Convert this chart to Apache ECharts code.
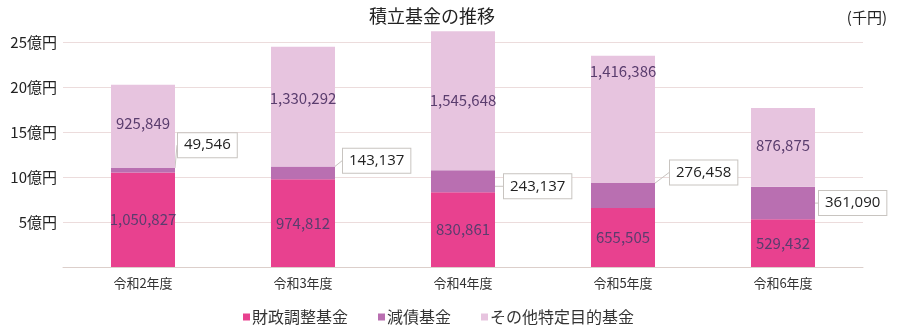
<!DOCTYPE html>
<html>
<head>
<meta charset="utf-8">
<script src="https://cdn.jsdelivr.net/npm/echarts@6/dist/echarts.min.js"></script>
<style>
  html, body { margin: 0; padding: 0; background: #fff; }
  #chart { width: 900px; height: 332px; }
</style>
</head>
<body>
<div id="chart"></div>
<script>
// 積立基金の推移 (単位: 千円)
const years = ['令和2年度', '令和3年度', '令和4年度', '令和5年度', '令和6年度'];
const seriesNames = ['財政調整基金', '減債基金', 'その他特定目的基金'];
const zaiseiChousei = [1050827, 974812, 830861, 655505, 529432];
const gensai = [49546, 143137, 243137, 276458, 361090];
const sonota = [925849, 1330292, 1545648, 1416386, 876875];
const yTicks = [0, 500000, 1000000, 1500000, 2000000, 2500000];

// callout placement for the 減債基金 boxes (px)
const calloutDx = [3, 8, 9, 15, 4];
const calloutDy = [-25, -12, 5, -23, 0];
// nudges for the その他 labels (px)
const sonotaDy = [-3, -8, 0, -48, -2];

const colors = ['#E8418F', '#B96FB1', '#E7C4DF'];
const FONT = '"Noto Sans CJK JP", "Noto Sans", sans-serif';
const fmt = v => v.toLocaleString('en-US');

const chart = echarts.init(document.getElementById('chart'), null, { renderer: 'canvas' });

const insideLabel = {
  show: true,
  position: 'inside',
  color: '#5A3D6E',
  fontFamily: FONT,
  fontSize: 15,
  formatter: p => fmt(p.value)
};

chart.setOption({
  animation: false,
  backgroundColor: '#fff',
  textStyle: { fontFamily: FONT },
  title: [
    { text: '積立基金の推移', left: 427, top: 2, textAlign: 'center',
      textStyle: { fontSize: 18, fontWeight: 'normal', color: '#222', fontFamily: FONT } },
    { text: '(千円)', right: 8, top: 5,
      textStyle: { fontSize: 15, fontWeight: 'normal', color: '#222', fontFamily: FONT } }
  ],
  legend: {
    bottom: 2,
    left: 238,
    itemWidth: 7,
    itemHeight: 7,
    itemGap: 30,
    icon: 'rect',
    textStyle: { fontSize: 16, color: '#333', fontFamily: FONT, padding: [0, 0, 0, -3] },
    data: seriesNames
  },
  grid: { left: 63, right: 37, top: 42, bottom: 65, containLabel: false },
  xAxis: {
    type: 'category',
    data: years,
    axisLine: { lineStyle: { color: '#DCCFCB', width: 1 } },
    axisTick: { show: false },
    axisLabel: { color: '#333', fontSize: 13, margin: 10, fontFamily: FONT }
  },
  yAxis: {
    type: 'value',
    min: yTicks[0],
    max: yTicks[yTicks.length - 1],
    interval: yTicks[1] - yTicks[0],
    axisLine: { show: false },
    axisTick: { show: false },
    splitLine: { lineStyle: { color: '#ECDCDC', width: 1 } },
    axisLabel: {
      color: '#222', fontSize: 15, margin: 6, fontFamily: FONT,
      formatter: v => v === 0 ? '' : (v / 100000) + '億円'
    }
  },
  series: [
    {
      name: seriesNames[0], type: 'bar', stack: 'total', barWidth: 64, clip: false,
      itemStyle: { color: colors[0] },
      label: insideLabel,
      data: zaiseiChousei
    },
    {
      name: seriesNames[1], type: 'bar', stack: 'total', barWidth: 64, clip: false,
      itemStyle: { color: colors[1] },
      label: {
        show: true,
        position: 'right',
        distance: 0,
        color: '#222',
        fontFamily: '"Open Sans", "Noto Sans", sans-serif',
        fontSize: 15,
        backgroundColor: '#fff',
        borderColor: '#C8C4C0',
        borderWidth: 1,
        padding: [5, 6, 4, 6],
        formatter: p => fmt(p.value)
      },
      labelLine: { show: true, lineStyle: { color: '#C8C4C0', width: 1 } },
      labelLayout: p => ({ dx: calloutDx[p.dataIndex], dy: calloutDy[p.dataIndex] }),
      data: gensai
    },
    {
      name: seriesNames[2], type: 'bar', stack: 'total', barWidth: 64, clip: false,
      itemStyle: { color: colors[2] },
      label: insideLabel,
      labelLayout: p => ({ dy: sonotaDy[p.dataIndex] }),
      data: sonota
    }
  ]
});
</script>
</body>
</html>
